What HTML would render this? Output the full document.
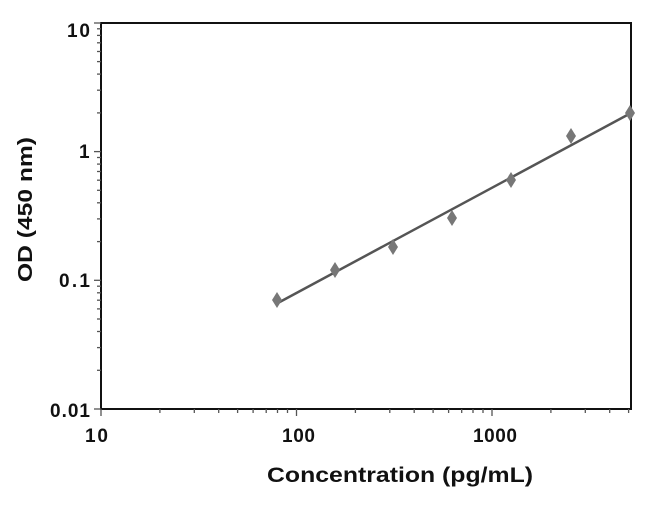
<!DOCTYPE html>
<html><head><style>body{margin:0;background:#fff}</style></head><body>
<svg width="650" height="507" xmlns="http://www.w3.org/2000/svg" font-family="Liberation Sans, Arial, sans-serif" font-weight="bold">
<rect x="101" y="23" width="530" height="386" fill="none" stroke="#111" stroke-width="2"/>
<g stroke="#555" stroke-width="1.3">
<line x1="94" x2="101" y1="409" y2="409"/><line x1="97" x2="101" y1="370.3" y2="370.3"/><line x1="97" x2="101" y1="347.6" y2="347.6"/><line x1="97" x2="101" y1="331.5" y2="331.5"/><line x1="97" x2="101" y1="319.0" y2="319.0"/><line x1="97" x2="101" y1="308.9" y2="308.9"/><line x1="97" x2="101" y1="300.2" y2="300.2"/><line x1="97" x2="101" y1="292.8" y2="292.8"/><line x1="97" x2="101" y1="286.2" y2="286.2"/>
<line x1="94" x2="101" y1="280.3" y2="280.3"/><line x1="97" x2="101" y1="241.6" y2="241.6"/><line x1="97" x2="101" y1="218.9" y2="218.9"/><line x1="97" x2="101" y1="202.8" y2="202.8"/><line x1="97" x2="101" y1="190.3" y2="190.3"/><line x1="97" x2="101" y1="180.2" y2="180.2"/><line x1="97" x2="101" y1="171.5" y2="171.5"/><line x1="97" x2="101" y1="164.1" y2="164.1"/><line x1="97" x2="101" y1="157.5" y2="157.5"/>
<line x1="94" x2="101" y1="151.6" y2="151.6"/><line x1="97" x2="101" y1="112.9" y2="112.9"/><line x1="97" x2="101" y1="90.2" y2="90.2"/><line x1="97" x2="101" y1="74.1" y2="74.1"/><line x1="97" x2="101" y1="61.6" y2="61.6"/><line x1="97" x2="101" y1="51.5" y2="51.5"/><line x1="97" x2="101" y1="42.8" y2="42.8"/><line x1="97" x2="101" y1="35.4" y2="35.4"/><line x1="97" x2="101" y1="28.8" y2="28.8"/>
<line x1="94" x2="101" y1="23" y2="23"/>
<line y1="409" y2="416" x1="101" x2="101"/><line y1="409" y2="413" x1="159.9" x2="159.9"/><line y1="409" y2="413" x1="194.3" x2="194.3"/><line y1="409" y2="413" x1="218.7" x2="218.7"/><line y1="409" y2="413" x1="237.6" x2="237.6"/><line y1="409" y2="413" x1="253.1" x2="253.1"/><line y1="409" y2="413" x1="266.2" x2="266.2"/><line y1="409" y2="413" x1="277.5" x2="277.5"/><line y1="409" y2="413" x1="287.5" x2="287.5"/>
<line y1="409" y2="416" x1="296.5" x2="296.5"/><line y1="409" y2="413" x1="355.4" x2="355.4"/><line y1="409" y2="413" x1="389.8" x2="389.8"/><line y1="409" y2="413" x1="414.2" x2="414.2"/><line y1="409" y2="413" x1="433.1" x2="433.1"/><line y1="409" y2="413" x1="448.6" x2="448.6"/><line y1="409" y2="413" x1="461.7" x2="461.7"/><line y1="409" y2="413" x1="473" x2="473"/><line y1="409" y2="413" x1="483" x2="483"/>
<line y1="409" y2="416" x1="492" x2="492"/><line y1="409" y2="413" x1="550.9" x2="550.9"/><line y1="409" y2="413" x1="585.3" x2="585.3"/><line y1="409" y2="413" x1="609.7" x2="609.7"/><line y1="409" y2="413" x1="628.6" x2="628.6"/>
</g>
<g font-size="19" fill="#111" lengthAdjust="spacingAndGlyphs">
<text x="67" y="37" textLength="23">10</text><text x="79" y="158" textLength="11">1</text><text x="59" y="287" textLength="31">0.1</text><text x="50" y="417" textLength="40">0.01</text>
<text x="85" y="442" textLength="23">10</text><text x="282" y="442" textLength="33">100</text><text x="473" y="442" textLength="44">1000</text>
</g>
<text x="267" y="482" font-size="21" textLength="266" lengthAdjust="spacingAndGlyphs" fill="#111">Concentration (pg/mL)</text>
<text transform="translate(32,282) rotate(-90)" font-size="20" textLength="145" lengthAdjust="spacingAndGlyphs" fill="#111">OD (450 nm)</text>
<line x1="276" y1="304" x2="631" y2="113" stroke="#555" stroke-width="2.5"/>
<g fill="#777">
<path d="M277 292l5 8-5 8-5-8z"/>
<path d="M335 262l5 8-5 8-5-8z"/>
<path d="M393 239l5 8-5 8-5-8z"/>
<path d="M452 210l5 8-5 8-5-8z"/>
<path d="M511 172l5 8-5 8-5-8z"/>
<path d="M571 128l5 8-5 8-5-8z"/>
<path d="M630 105l5 8-5 8-5-8z"/>
</g>
</svg>
</body></html>
